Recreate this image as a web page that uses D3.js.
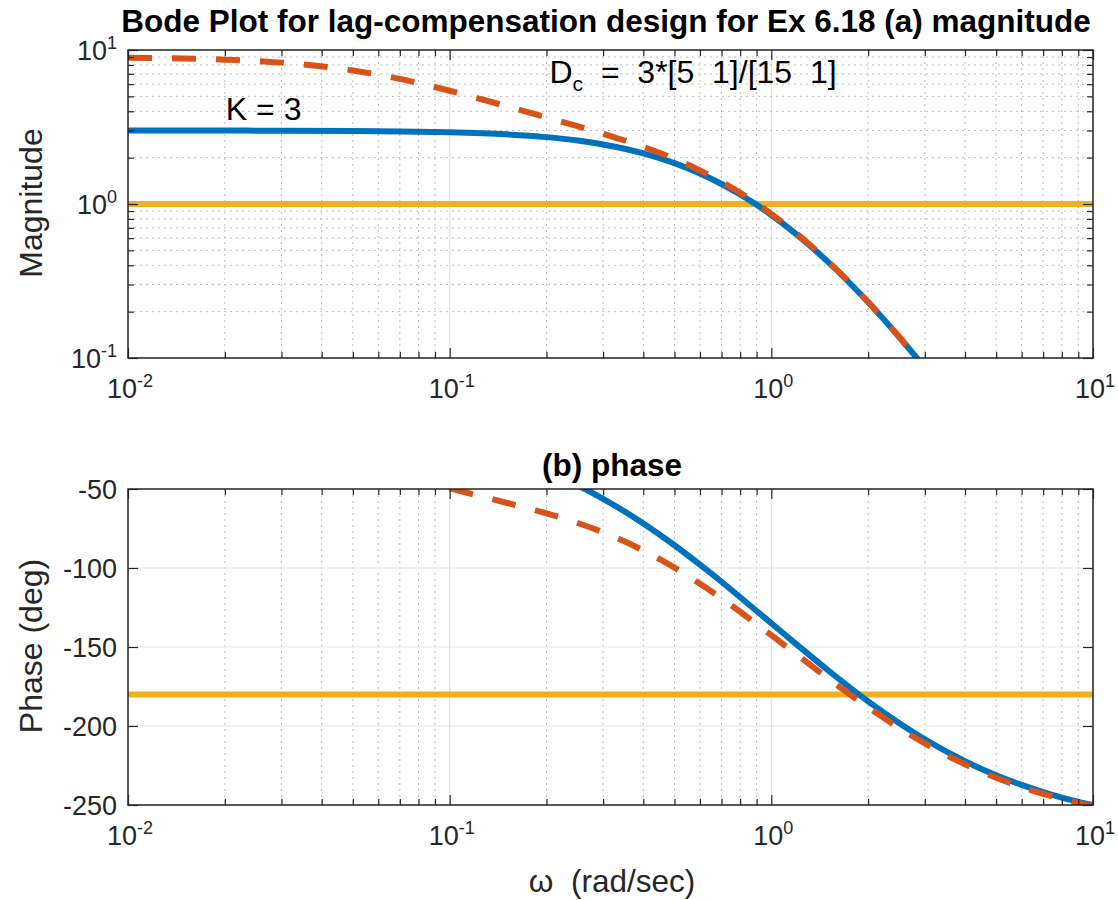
<!DOCTYPE html>
<html>
<head>
<meta charset="utf-8">
<script src="https://cdn.jsdelivr.net/npm/d3@7"></script>
<style>
  body { margin: 0; background: #fff; }
  svg { font-family: "Liberation Sans", Arial, sans-serif; }
</style>
</head>
<body>
<svg width="1118" height="900"></svg>
<script>
// frequency samples (rad/sec)
const omega = [0.01, 0.02, 0.03, 0.05, 0.07, 0.1, 0.15, 0.2, 0.25, 0.3, 0.4, 0.5, 0.6, 0.7, 0.8, 0.9,
  1, 1.2, 1.5, 2, 2.5, 3, 4, 5, 6, 7, 8, 10];

// K = 3 uncompensated (blue)
const magK3 = [3.00, 2.997, 2.993, 2.980, 2.962, 2.923, 2.834, 2.718, 2.583, 2.437, 2.133, 1.841, 1.577, 1.348, 1.153, 0.988,
  0.849, 0.633, 0.421, 0.230, 0.1365, 0.0865, 0.0404, null, null, null, null, null];
const phaseK3 = [null, null, null, null, null, null, null, -38.8, -47.7, -56.2, -71.8, -85.6, -97.9, -108.7, -118.5, -127.2,
  -135.0, -148.5, -164.7, -184.4, -198.2, -208.4, -222.3, -231.2, -237.3, -241.8, -245.3, -250.1];

// lag compensated Dc*G (red dashed)
const magLag = [8.91, 8.65, 8.28, 7.37, 6.49, 5.44, 4.32, 3.65, 3.20, 2.86, 2.35, 1.965, 1.653, 1.396, 1.184, 1.009,
  0.863, 0.641, 0.424, 0.231, 0.1369, 0.0867, 0.0405, null, null, null, null, null];
const phaseLag = [null, null, null, null, null, -49.6, -58.7, -65.4, -71.5, -77.4, -88.9, -99.8, -110.0, -119.2, -127.7, -135.5,
  -142.5, -154.8, -169.8, -188.2, -201.3, -211.0, -224.2, -232.7, -238.6, -242.9, -246.2, -250.9];

// reference lines
const magRef = 1;
const phaseRef = -180;

const xTicks = [0.01, 0.1, 1, 10];
const magTicks = [0.1, 1, 10];
const phaseTicks = [-250, -200, -150, -100, -50];

const blue = '#0072BD';
const red = '#D95319';
const yellow = '#EDB120';
const axisColor = '#262626';

const svg = d3.select('svg');
const left = 128;
const right = 1093;

const x = d3.scaleLog().domain([0.01, 10]).range([left, right]);
const yMag = d3.scaleLog().domain([0.1, 10]).range([358, 50]);
const yPh = d3.scaleLinear().domain([-250, -50]).range([805, 489]);

// minor ticks for a log domain
const minorLog = (lo, hi) => {
  const out = [];
  for (let p = Math.log10(lo); p < Math.log10(hi); p += 1) {
    for (let m = 2; m <= 9; m += 1) out.push(m * Math.pow(10, p));
  }
  return out;
};

const supLabel = (sel, v) => {
  const e = Math.round(Math.log10(v));
  sel.append('tspan').text('10');
  sel.append('tspan').attr('dy', -11).attr('font-size', 18).text(e);
};

const drawPanel = (id, yScale, logY, yTickVals, series, refVal, clipId) => {
  const g = svg.append('g').attr('id', id);
  const [y0, y1] = yScale.range();
  const top = y1;
  const bottom = y0;

  svg.append('clipPath').attr('id', clipId)
    .append('rect').attr('x', left).attr('y', top).attr('width', right - left).attr('height', bottom - top);

  // grid
  const xMinor = minorLog(0.01, 10);
  g.selectAll('.vminor').data(xMinor).enter().append('line')
    .attr('x1', d => x(d)).attr('x2', d => x(d)).attr('y1', top).attr('y2', bottom)
    .attr('stroke', '#bdbdbd').attr('stroke-width', 1).attr('stroke-dasharray', '2,4');
  g.selectAll('.vmajor').data(xTicks).enter().append('line')
    .attr('x1', d => x(d)).attr('x2', d => x(d)).attr('y1', top).attr('y2', bottom)
    .attr('stroke', '#e3e3e3').attr('stroke-width', 1.2);
  if (logY) {
    g.selectAll('.hminor').data(minorLog(0.1, 10)).enter().append('line')
      .attr('x1', left).attr('x2', right).attr('y1', d => yScale(d)).attr('y2', d => yScale(d))
      .attr('stroke', '#bdbdbd').attr('stroke-width', 1).attr('stroke-dasharray', '2,4');
  }
  g.selectAll('.hmajor').data(yTickVals).enter().append('line')
    .attr('x1', left).attr('x2', right).attr('y1', d => yScale(d)).attr('y2', d => yScale(d))
    .attr('stroke', '#e3e3e3').attr('stroke-width', 1.2);

  // reference line
  g.append('line')
    .attr('x1', left).attr('x2', right).attr('y1', yScale(refVal)).attr('y2', yScale(refVal))
    .attr('stroke', yellow).attr('stroke-width', 6);

  // curves
  series.forEach((s) => {
    const pts = omega.map((w, i) => [w, s.values[i]]);
    const line = d3.line()
      .defined(d => d[1] !== null)
      .x(d => x(d[0]))
      .y(d => yScale(d[1]))
      .curve(d3.curveMonotoneX);
    g.append('path')
      .attr('d', line(pts))
      .attr('clip-path', `url(#${clipId})`)
      .attr('fill', 'none')
      .attr('stroke', s.color)
      .attr('stroke-width', 6)
      .attr('stroke-dasharray', s.dash || null);
  });

  // axes with ticks inside on all four sides
  g.append('g').attr('transform', `translate(0,${bottom})`)
    .call(d3.axisBottom(x).tickValues(xMinor).tickSize(-6).tickFormat(''));
  g.append('g').attr('transform', `translate(0,${top})`)
    .call(d3.axisTop(x).tickValues(xMinor).tickSize(-6).tickFormat(''));
  g.append('g').attr('transform', `translate(0,${bottom})`)
    .call(d3.axisBottom(x).tickValues(xTicks).tickSize(-10).tickFormat(''));
  g.append('g').attr('transform', `translate(0,${top})`)
    .call(d3.axisTop(x).tickValues(xTicks).tickSize(-10).tickFormat(''));
  if (logY) {
    const yMinor = minorLog(0.1, 10);
    g.append('g').attr('transform', `translate(${left},0)`)
      .call(d3.axisLeft(yScale).tickValues(yMinor).tickSize(-6).tickFormat(''));
    g.append('g').attr('transform', `translate(${right},0)`)
      .call(d3.axisRight(yScale).tickValues(yMinor).tickSize(-6).tickFormat(''));
  }
  g.append('g').attr('transform', `translate(${left},0)`)
    .call(d3.axisLeft(yScale).tickValues(yTickVals).tickSize(-10).tickFormat(''));
  g.append('g').attr('transform', `translate(${right},0)`)
    .call(d3.axisRight(yScale).tickValues(yTickVals).tickSize(-10).tickFormat(''));
  g.selectAll('.domain').remove();
  g.selectAll('.tick line').attr('stroke', axisColor).attr('stroke-width', 1.2);

  g.append('rect')
    .attr('x', left).attr('y', top).attr('width', right - left).attr('height', bottom - top)
    .attr('fill', 'none').attr('stroke', axisColor).attr('stroke-width', 1.5);

  // x tick labels
  g.selectAll('.xlab').data(xTicks).enter().append('text')
    .attr('x', d => x(d) + 2).attr('y', bottom + 40)
    .attr('text-anchor', 'middle').attr('font-size', 27).attr('fill', axisColor)
    .each(function (d) { supLabel(d3.select(this), d); });

  // y tick labels
  const yl = g.selectAll('.ylab').data(yTickVals).enter().append('text')
    .attr('x', 117).attr('y', d => yScale(d) + 10)
    .attr('text-anchor', 'end').attr('font-size', 27).attr('fill', axisColor);
  if (logY) {
    yl.each(function (d) { supLabel(d3.select(this), d); });
  } else {
    yl.text(d => d);
  }
  return g;
};

drawPanel('mag', yMag, true, magTicks, [
  { values: magK3, color: blue },
  { values: magLag, color: red, dash: '24,20' }
], magRef, 'clipMag');

drawPanel('phase', yPh, false, phaseTicks, [
  { values: phaseK3, color: blue },
  { values: phaseLag, color: red, dash: '24,20' }
], phaseRef, 'clipPhase');

// titles and labels
svg.append('text')
  .attr('x', 606).attr('y', 32)
  .attr('text-anchor', 'middle').attr('font-size', 31.5).attr('font-weight', 'bold').attr('fill', '#000')
  .text('Bode Plot for lag-compensation design for Ex 6.18 (a) magnitude');

svg.append('text')
  .attr('x', 612).attr('y', 476)
  .attr('text-anchor', 'middle').attr('font-size', 31.5).attr('font-weight', 'bold').attr('fill', '#000')
  .text('(b) phase');

svg.append('text')
  .attr('transform', 'translate(42,203) rotate(-90)')
  .attr('text-anchor', 'middle').attr('font-size', 32).attr('fill', axisColor)
  .text('Magnitude');

svg.append('text')
  .attr('transform', 'translate(42,646) rotate(-90)')
  .attr('text-anchor', 'middle').attr('font-size', 32).attr('fill', axisColor)
  .text('Phase (deg)');

svg.append('text')
  .attr('x', 612).attr('y', 892)
  .attr('text-anchor', 'middle').attr('font-size', 31.5).attr('fill', axisColor)
  .style('white-space', 'pre')
  .text('\u03C9  (rad/sec)');

svg.append('text')
  .attr('x', x(0.02) + 1).attr('y', 120)
  .attr('font-size', 32).attr('fill', '#000')
  .text('K = 3');

const dc = svg.append('text')
  .attr('x', x(0.2) + 3).attr('y', 83)
  .attr('font-size', 32).attr('fill', '#000')
  .style('white-space', 'pre');
dc.append('tspan').text('D');
dc.append('tspan').attr('dy', 8).attr('font-size', 21).text('c');
dc.append('tspan').attr('dy', -8).text('  =  3*[5  1]/[15  1]');
</script>
</body>
</html>
